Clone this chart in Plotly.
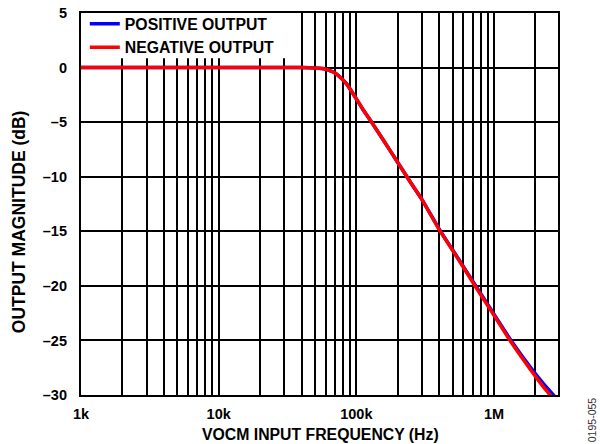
import plotly.graph_objects as go

# Frequency (Hz) and magnitude (dB)
freq_pos = [1e3, 2e3, 5e3, 1e4, 2e4, 3e4, 4e4, 5e4, 6e4, 6.5e4, 7e4, 7.6e4, 8.5e4, 9.7e4,
            1.1e5, 1.29e5, 1.6e5, 2.0e5, 2.5e5, 3.0e5, 4.0e5, 5.5e5, 7.2e5, 1.0e6,
            1.33e6, 1.8e6, 2.3e6, 2.75e6]
mag_pos = [0, 0, 0, 0, 0, 0, 0, -0.05, -0.15, -0.3, -0.5, -0.86, -1.5, -2.6,
           -3.7, -5.0, -6.8, -8.7, -10.6, -12.1, -14.8, -17.5, -19.8, -22.6,
           -25.0, -27.3, -29.0, -30.1]

freq_neg = [1e3, 2e3, 5e3, 1e4, 2e4, 3e4, 4e4, 5e4, 6e4, 6.5e4, 7e4, 7.6e4, 8.5e4, 9.7e4,
            1.1e5, 1.29e5, 1.6e5, 2.0e5, 2.5e5, 3.0e5, 4.0e5, 5.5e5, 7.2e5, 1.0e6,
            1.33e6, 1.8e6, 2.3e6, 2.6e6]
mag_neg = [0, 0, 0, 0, 0, 0, 0, -0.05, -0.15, -0.3, -0.5, -0.86, -1.5, -2.6,
           -3.7, -5.0, -6.8, -8.7, -10.6, -12.1, -14.85, -17.55, -19.9, -22.7,
           -25.15, -27.5, -29.3, -30.1]

x_major = [1e3, 1e4, 1e5, 1e6]
x_major_text = ["1k", "10k", "100k", "1M"]
x_minor = [m * d for d in (1e3, 1e4, 1e5, 1e6) for m in range(2, 10) if m * d <= 3e6]
y_ticks = [-30, -25, -20, -15, -10, -5, 0, 5]
y_text = ["–30", "–25", "–20", "–15", "–10", "–5", "0", "5"]

FONT = "Liberation Sans, Arial, Helvetica, sans-serif"

fig = go.Figure()
fig.add_trace(go.Scatter(x=freq_pos, y=mag_pos, mode="lines", name="POSITIVE OUTPUT",
                         line=dict(color="#0000FF", width=3.5, shape="spline", smoothing=0.6)))
fig.add_trace(go.Scatter(x=freq_neg, y=mag_neg, mode="lines", name="NEGATIVE OUTPUT",
                         line=dict(color="#FF0000", width=3.5, shape="spline", smoothing=0.6)))

fig.update_layout(
    width=600, height=444,
    margin=dict(l=81, r=42, t=13, b=49, autoexpand=False),
    paper_bgcolor="white", plot_bgcolor="white",
    font=dict(family=FONT, size=14.5, color="black", weight="bold"),
    showlegend=True,
    legend=dict(x=0.008, y=1.016, xanchor="left", yanchor="top", bgcolor="rgba(0,0,0,0)",
                font=dict(family=FONT, size=15.8, color="black", weight="bold"),
                borderwidth=0, tracegroupgap=0, itemwidth=30),
    xaxis=dict(
        type="log", range=[3, 6.465], automargin=False,
        tickmode="array", tickvals=x_major, ticktext=x_major_text,
        showgrid=True, gridcolor="black", gridwidth=2.2,
        minor=dict(tickmode="array", tickvals=x_minor, showgrid=True,
                   gridcolor="black", gridwidth=1.6, ticks=""),
        showline=True, linecolor="black", linewidth=2.2, mirror=True,
        ticks="", ticklabelstandoff=4, zeroline=False,
        tickfont=dict(family=FONT, size=14.5, weight="bold"),
    ),
    yaxis=dict(
        range=[-30, 5], automargin=False,
        tickmode="array", tickvals=y_ticks, ticktext=y_text,
        showgrid=True, gridcolor="black", gridwidth=1.6,
        showline=True, linecolor="black", linewidth=2.2, mirror=True,
        ticks="", ticklabelstandoff=9, zeroline=False,
        tickfont=dict(family=FONT, size=14.5, weight="bold"),
    ),
    shapes=[
        # white box behind the legend that hides the grid (but not the curves)
        dict(type="rect", xref="x", yref="y", x0=1000, x1=35700, y0=0.85, y1=5,
             fillcolor="white", line=dict(width=0), layer="between"),
    ],
    annotations=[
        dict(text="VOCM INPUT FREQUENCY (Hz)", xref="paper", yref="paper",
             x=0.503, y=-0.103, xanchor="center", yanchor="middle", showarrow=False,
             font=dict(family=FONT, size=15.8, color="black", weight="bold")),
        dict(text="OUTPUT MAGNITUDE (dB)", textangle=-90, xref="paper", yref="paper",
             x=-0.13, y=0.455, xanchor="center", yanchor="middle", showarrow=False,
             font=dict(family=FONT, size=17.5, color="black", weight="bold")),
        dict(text="0195-055", textangle=-90, xref="paper", yref="paper",
             x=1.07, y=-0.065, xanchor="center", yanchor="middle", showarrow=False,
             font=dict(family=FONT, size=10.5, color="#333333", weight="normal")),
    ],
)

fig.write_html("out.html", config={"displayModeBar": False},
               post_script="document.body.style.margin='0px';")
